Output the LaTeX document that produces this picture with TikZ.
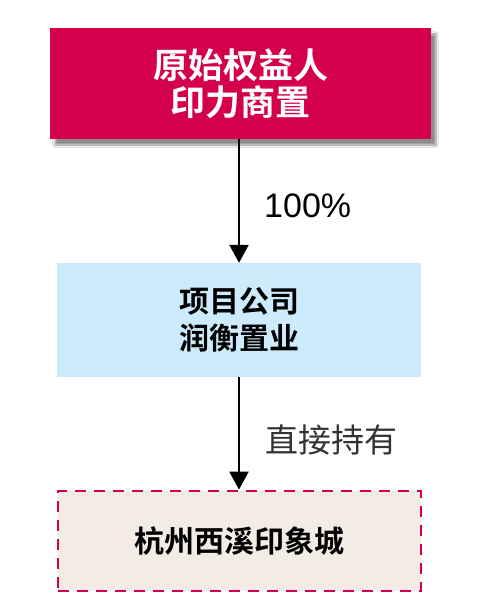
\documentclass[tikz,border=0pt]{standalone}
\usepackage{fontspec}
\setmainfont{Liberation Sans}
\newfontfamily\cjk{Noto Sans CJK SC}
\newfontfamily\cjkb{Noto Sans CJK SC Bold}
\usetikzlibrary{arrows.meta,shadows.blur}
\definecolor{crim}{HTML}{D4004C}
\definecolor{lblue}{HTML}{CCEBFD}
\definecolor{beige}{HTML}{F2ECE4}
\tikzset{
  box/.style={rectangle, inner sep=0pt, align=center},
  conn/.style={line width=2.4pt, -{Triangle[width=19pt,length=18pt]}},
  lbl/.style={anchor=west, inner sep=0pt}
}
\begin{document}
\begin{tikzpicture}[x=1pt,y=-1pt]
\useasboundingbox[fill=white] (0,0) rectangle (488,612);
\node[box, fill=crim, minimum width=381pt, minimum height=111pt,
  blur shadow={shadow xshift=5pt, shadow yshift=-6pt, shadow blur steps=8, shadow opacity=45},
  text=white, font=\cjkb\fontsize{35}{37}\selectfont] (top) at (240.5,83.5) {原始权益人\\印力商置};
\node[box, fill=lblue, minimum width=364pt, minimum height=114pt,
  font=\cjkb\fontsize{30}{37}\selectfont] (mid) at (239,320) {项目公司\\润衡置业};
\node[box, fill=beige, draw=crim, dashed, dash pattern=on 11pt off 8pt, line width=2.8pt,
  minimum width=363pt, minimum height=100pt,
  font=\cjkb\fontsize{30}{32}\selectfont] (bot) at (239.5,541) {杭州西溪印象城};
\draw[conn] (top.south -| 239,0) -- (mid.north -| 239,0);
\draw[conn] (mid.south -| 239,0) -- (bot.north -| 239,0);
\node[lbl, font=\fontsize{34}{36}\selectfont] (l1) at (264,206) {100\%};
\node[lbl, font=\cjk\fontsize{33}{36}\selectfont, text=black!80] (l2) at (265,440) {直接持有};
\end{tikzpicture}
\end{document}
